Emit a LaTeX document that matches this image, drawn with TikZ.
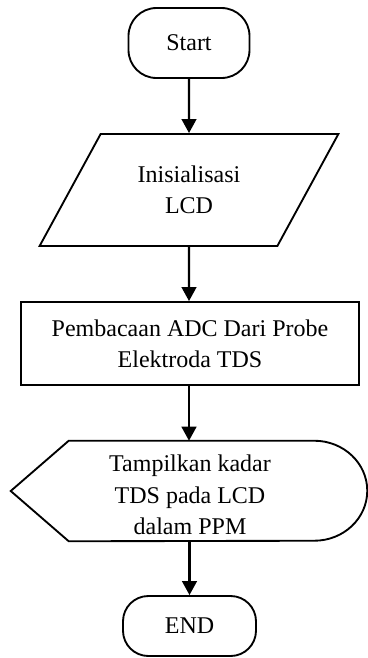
\documentclass[tikz,border=0pt]{standalone}
\usepackage{fontspec}
\setmainfont{Liberation Serif}
\usepackage{tikz}
\usetikzlibrary{shapes.geometric,arrows.meta,calc}

\begin{document}
\begin{tikzpicture}[x=0.75pt, y=-0.75pt,
    every node/.style={font=\fontsize{18}{23.5}\selectfont, align=center},
    terminal/.style={draw, line width=1.4pt, rounded corners=21pt},
    io/.style={draw, line width=1.4pt, trapezium, trapezium left angle=56, trapezium right angle=124, trapezium stretches=true},
    process/.style={draw, line width=1.4pt, rectangle},
    flow/.style={line width=1.7pt, -{Triangle[length=10.5pt, width=11pt]}}]
    \useasboundingbox (0,0) rectangle (368,658);
    \node[terminal, minimum width=90.75pt, minimum height=52.5pt] (start) at (189,43) {Start};
    \node[io, minimum width=224.25pt, minimum height=84pt] (lcd) at (189,190) {Inisialisasi\\LCD};
    \node[process, minimum width=253.5pt, minimum height=62.25pt] (adc) at (190,343.5) {Pembacaan ADC Dari Probe\\Elektroda TDS};
    \node[minimum width=267pt, minimum height=75pt, inner sep=0pt] (disp) at (189,491) {};
    \node at ($(disp.center)+(1,4)$) (disptext) {Tampilkan kadar\\TDS pada LCD\\dalam PPM};
    \node[terminal, minimum width=99.75pt, minimum height=45pt, rounded corners=19pt] (end) at (189.5,626) {END};
    % display shape
    \draw[line width=1.4pt] (disp.west) -- ($(disp.north west)+(58,0)$) -- ($(disp.north east)+(-53,0)$)
        arc[start angle=90, end angle=-90, x radius=39.75pt, y radius=37.5pt]
        -- ($(disp.south west)+(58,0)$) -- cycle;
    \draw[flow] (start) -- (lcd);
    \draw[flow] (lcd) -- (lcd.south |- adc.north);
    \draw[flow] (adc.south -| disp.north) -- (disp.north);
    \draw[flow] (disp.south -| end.north) -- (end);
\end{tikzpicture}
\end{document}
